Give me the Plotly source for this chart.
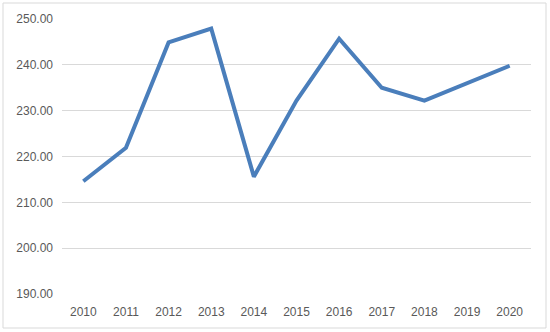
import plotly.graph_objects as go

years = ["2010", "2011", "2012", "2013", "2014", "2015", "2016", "2017", "2018", "2019", "2020"]
values = [214.6, 221.9, 244.9, 247.9, 215.6, 232.2, 245.7, 235.0, 232.2, 236.0, 239.8]
y_ticks = [190, 200, 210, 220, 230, 240, 250]
y_tick_labels = ["190.00", "200.00", "210.00", "220.00", "230.00", "240.00", "250.00"]

fig = go.Figure()
fig.add_trace(go.Scatter(
    x=years, y=values, mode="lines",
    line=dict(color="#4A7EBB", width=4),
    hoverinfo="x+y",
))

fig.update_layout(
    width=550, height=332,
    margin=dict(l=62, r=19, t=19, b=38),
    paper_bgcolor="white", plot_bgcolor="white",
    showlegend=False,
    font=dict(family="Liberation Sans, Arial, sans-serif", size=12, color="#595959"),
    xaxis=dict(
        type="category", showgrid=False, zeroline=False,
        showline=False, ticks="", range=[-0.5, 10.5],
        ticklabelstandoff=9,
        tickfont=dict(size=12, color="#595959"),
    ),
    yaxis=dict(
        range=[190, 250], tickvals=y_ticks, ticktext=y_tick_labels,
        showgrid=True, gridcolor="#D9D9D9", gridwidth=1,
        zeroline=False, showline=False, ticks="",
        ticklabelstandoff=8,
        tickfont=dict(size=12, color="#595959"),
    ),
    shapes=[dict(
        type="rect", xref="paper", yref="paper",
        x0=(3 - 62) / 469, x1=(546 - 62) / 469,
        y0=(294 - 328) / 275, y1=(294 - 3) / 275,
        line=dict(color="#D9D9D9", width=1), layer="below",
    )],
)

fig.write_html(
    "out.html",
    config={"displayModeBar": False},
    post_script="document.body.style.margin='0';document.body.style.overflow='hidden';",
)
